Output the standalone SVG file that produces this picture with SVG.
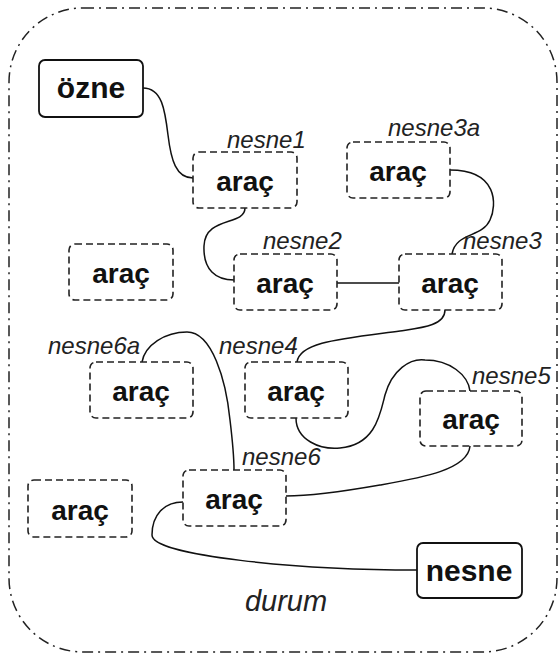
<svg xmlns="http://www.w3.org/2000/svg" width="560" height="657" viewBox="0 0 560 657">
  <style>
    .frame { fill: none; stroke: #222; stroke-width: 1.5; stroke-dasharray: 11 5 2 5; }
    .role { fill: #fff; stroke: #111; stroke-width: 1.8; }
    .tool { fill: #fff; stroke: #222; stroke-width: 1.6; stroke-dasharray: 7 4; }
    .link { fill: none; stroke: #111; stroke-width: 1.5; }
    .big { font-family: "Liberation Sans", Arial, sans-serif; font-weight: bold; font-size: 30px; fill: #111; text-anchor: middle; }
    .name { font-family: "Liberation Sans", Arial, sans-serif; font-weight: bold; font-size: 28px; fill: #111; text-anchor: middle; }
    .lbl { font-family: "Liberation Sans", Arial, sans-serif; font-style: italic; font-size: 24px; fill: #222; }
    .case { font-family: "Liberation Sans", Arial, sans-serif; font-style: italic; font-size: 29px; fill: #222; text-anchor: middle; }
  </style>
  <rect width="560" height="657" fill="#fff"/>

  <!-- case frame -->
  <g id="durum">
    <rect class="frame" x="9" y="8" width="548" height="644" rx="74" ry="74"/>
    <text class="case" x="286" y="611">durum</text>
  </g>

  <!-- connectors -->
  <g id="connectors">
    <path class="link" d="M143,88 C162,88 165,110 168,135 C171,160 176,178 193,178"/>
    <path class="link" d="M245,208 C245,226 205,216 204,246 C203,270 216,280 234,280"/>
    <path class="link" d="M450,170 C498,170 497,205 490,220 C482,238 456,232 452,254"/>
    <path class="link" d="M337,283 L399,283"/>
    <path class="link" d="M445,310 C445,326 420,328 400,331 C340,339 300,342 297,362"/>
    <path class="link" d="M296,418 C296,440 320,450 340,448 C375,445 380,415 385,395 C392,370 410,358 425,360 C450,360 468,375 470,391"/>
    <path class="link" d="M470,446 C468,470 420,478 380,485 C340,492 310,496 286,496"/>
    <path class="link" d="M142,362 C145,345 165,332 187,332 C212,332 226,380 230,420 C233,445 234,460 234,470"/>
    <path class="link" d="M183,502 C164,502 152,515 152,535 C152,556 300,570 417,570"/>
  </g>

  <g id="ozne">
    <rect class="role" x="39" y="60" width="104" height="57" rx="6"/>
    <text class="big" x="91" y="98">özne</text>
  </g>

  <g id="arac-nesne1">
    <rect class="tool" x="193" y="152" width="104" height="56" rx="6"/>
    <text class="name" x="245" y="191">araç</text>
    <text class="lbl" x="227" y="148">nesne1</text>
  </g>

  <g id="arac-nesne3a">
    <rect class="tool" x="347" y="142" width="103" height="56" rx="6"/>
    <text class="name" x="398" y="181">araç</text>
    <text class="lbl" x="388" y="136">nesne3a</text>
  </g>

  <g id="arac-free1">
    <rect class="tool" x="69" y="244" width="104" height="56" rx="6"/>
    <text class="name" x="121" y="283">araç</text>
  </g>

  <g id="arac-nesne2">
    <rect class="tool" x="234" y="254" width="103" height="56" rx="6"/>
    <text class="name" x="285" y="293">araç</text>
    <text class="lbl" x="263" y="249">nesne2</text>
  </g>

  <g id="arac-nesne3">
    <rect class="tool" x="399" y="254" width="103" height="56" rx="6"/>
    <text class="name" x="450" y="293">araç</text>
    <text class="lbl" x="463" y="249">nesne3</text>
  </g>

  <g id="arac-nesne6a">
    <rect class="tool" x="90" y="362" width="103" height="56" rx="6"/>
    <text class="name" x="141" y="401">araç</text>
    <text class="lbl" x="48" y="354">nesne6a</text>
  </g>

  <g id="arac-nesne4">
    <rect class="tool" x="245" y="362" width="103" height="56" rx="6"/>
    <text class="name" x="296" y="401">araç</text>
    <text class="lbl" x="219" y="354">nesne4</text>
  </g>

  <g id="arac-nesne5">
    <rect class="tool" x="420" y="391" width="102" height="55" rx="6"/>
    <text class="name" x="471" y="429">araç</text>
    <text class="lbl" x="472" y="384">nesne5</text>
  </g>

  <g id="arac-nesne6">
    <rect class="tool" x="183" y="470" width="103" height="56" rx="6"/>
    <text class="name" x="234" y="509">araç</text>
    <text class="lbl" x="242" y="465">nesne6</text>
  </g>

  <g id="arac-free2">
    <rect class="tool" x="28" y="480" width="104" height="57" rx="6"/>
    <text class="name" x="80" y="520">araç</text>
  </g>

  <g id="nesne">
    <rect class="role" x="417" y="543" width="105" height="55" rx="6"/>
    <text class="big" x="469" y="581">nesne</text>
  </g>
</svg>
